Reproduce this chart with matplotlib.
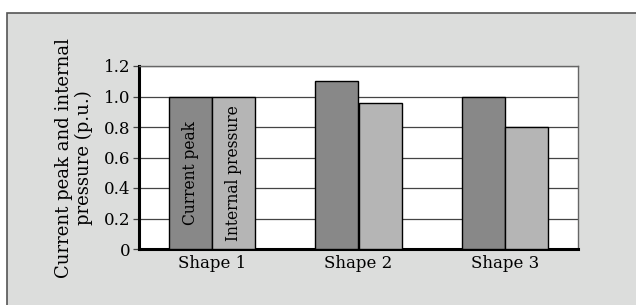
import matplotlib.pyplot as plt
from matplotlib.patches import Rectangle
import numpy as np

shapes = ["Shape 1", "Shape 2", "Shape 3"]
current_peak = [1.0, 1.1, 1.0]
internal_pressure = [1.0, 0.96, 0.8]
y_ticks = [0, 0.2, 0.4, 0.6, 0.8, 1.0, 1.2]
y_tick_labels = ["0", "0.2", "0.4", "0.6", "0.8", "1.0", "1.2"]

DARK = "#888888"
LIGHT = "#b5b5b5"
PANEL = "#dcdddc"

plt.rcParams["font.family"] = ["DejaVu Serif"]

fig = plt.figure(figsize=(6.36, 3.05), dpi=100)
fig.patch.set_facecolor("white")

# grey panel behind the chart
fig.patches.append(Rectangle((7 / 636, -0.05), 1.0, 1 - 13 / 305 + 0.05,
                             transform=fig.transFigure, facecolor=PANEL,
                             edgecolor="#555555", linewidth=1.2, zorder=-1))

ax = fig.add_axes([139 / 636, 1 - 249 / 305, (578 - 139) / 636, (249 - 66) / 305])
ax.set_zorder(1)
ax.set_facecolor("white")

x = np.arange(len(shapes))
width = 0.295
ax.bar(x - width / 2, current_peak, width, color=DARK, edgecolor="black",
       linewidth=1.0, zorder=3)
ax.bar(x + width / 2, internal_pressure, width, color=LIGHT, edgecolor="black",
       linewidth=1.0, zorder=3)

ax.text(x[0] - width / 2, current_peak[0] / 2, "Current peak", rotation=90,
        ha="center", va="center", fontsize=11.2, zorder=4)
ax.text(x[0] + width / 2, internal_pressure[0] / 2, "Internal pressure", rotation=90,
        ha="center", va="center", fontsize=11.2, zorder=4)

ax.set_xlim(-0.5, 2.5)
ax.set_ylim(0, 1.2)
ax.set_xticks(x)
ax.set_xticklabels(shapes, fontsize=12)
ax.set_yticks(y_ticks)
ax.set_yticklabels(y_tick_labels, fontsize=12)
ax.yaxis.grid(True, color="#444444", linewidth=0.9, zorder=1)
ax.set_axisbelow(True)
ax.tick_params(axis="x", length=0, pad=4)
ax.tick_params(axis="y", length=4, width=0.9, color="#444444", pad=2)

for side in ("left", "bottom"):
    ax.spines[side].set_linewidth(2.2)
    ax.spines[side].set_color("black")
for side in ("top", "right"):
    ax.spines[side].set_linewidth(1.0)
    ax.spines[side].set_color("#666666")

ax.set_ylabel("Current peak and internal\npressure (p.u.)", fontsize=13,
              linespacing=1.15)
ax.yaxis.set_label_coords(-0.105, 0.5)

fig.savefig("out.png", dpi=100)
